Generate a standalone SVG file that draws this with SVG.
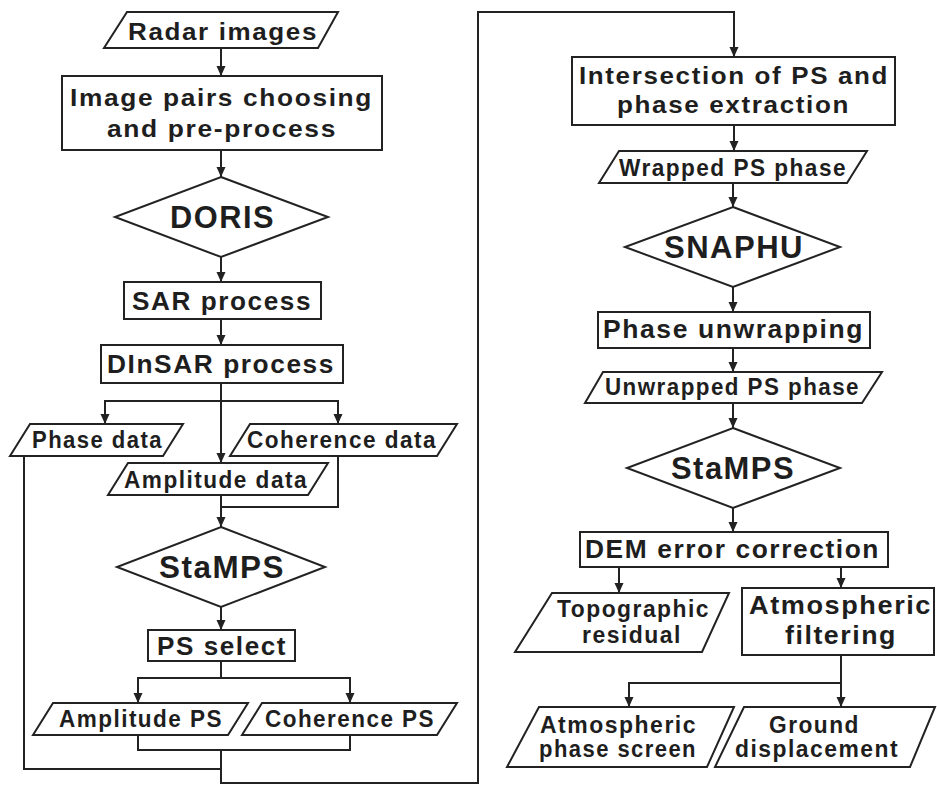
<svg xmlns="http://www.w3.org/2000/svg" width="937" height="787" viewBox="0 0 937 787">
<style>
.s{fill:#fff;stroke:#222;stroke-width:2;stroke-linejoin:miter}
.c{fill:none;stroke:#222;stroke-width:2}
.a{marker-end:url(#ah)}
text{font-family:"Liberation Sans",Arial,sans-serif;font-weight:bold;fill:#1e1e1e;letter-spacing:1.5px}
.t21{font-size:23px}.t22{font-size:24px}.t23{font-size:25px}.t24{font-size:26px}.t29{font-size:31px}
</style>
<defs>
<marker id="ah" markerUnits="userSpaceOnUse" markerWidth="10" markerHeight="10" viewBox="0 0 10 10" refX="10" refY="5" orient="auto">
<path d="M0,0.5 L10,5 L0,9.5 z" fill="#222"/>
</marker>
</defs>
<rect width="937" height="787" fill="#fff"/>
<g id="connectors">
<path class="c a" d="M221,48 V76"/>
<path class="c a" d="M221,150 V177"/>
<path class="c a" d="M221,257 V282"/>
<path class="c a" d="M221,319 V345"/>
<path class="c a" d="M221,383 V463"/>
<path class="c a" d="M221,401 H105 V424"/>
<path class="c a" d="M221,401 H338 V424"/>
<path class="c" d="M338,456 V507 H221"/>
<path class="c a" d="M221,495 V527"/>
<path class="c a" d="M221,607 V630"/>
<path class="c a" d="M221,661 V678 H138 V703"/>
<path class="c a" d="M221,678 H350 V703"/>
<path class="c" d="M138,735 V750 H350 V735"/>
<path class="c" d="M24,456 V769 H221"/>
<path class="c a" d="M221,750 V783 H478 V12 H734 V57"/>
<path class="c a" d="M734,125 V151"/>
<path class="c a" d="M733,183 V207"/>
<path class="c a" d="M733,287 V312"/>
<path class="c a" d="M733,348 V372"/>
<path class="c a" d="M733,403 V428"/>
<path class="c a" d="M733,508 V532"/>
<path class="c a" d="M619,567 V593"/>
<path class="c a" d="M841,567 V588"/>
<path class="c a" d="M841,655 V707"/>
<path class="c a" d="M841,683 H629 V707"/>
</g>
<g id="radar-images">
<polygon class="s" points="127,12 338,12 318,48 104,48"/>
<text class="t22" x="128" y="40" textLength="190" lengthAdjust="spacingAndGlyphs">Radar images</text>
</g>
<g id="image-pairs">
<rect class="s" x="62" y="76" width="320" height="74"/>
<text class="t22" x="70" y="106" textLength="303" lengthAdjust="spacingAndGlyphs">Image pairs choosing</text>
<text class="t22" x="107" y="137" textLength="230" lengthAdjust="spacingAndGlyphs">and pre-process</text>
</g>
<g id="doris">
<polygon class="s" points="221,177 328,217 221,257 115,217"/>
<text class="t29" x="170" y="228" textLength="105" lengthAdjust="spacingAndGlyphs">DORIS</text>
</g>
<g id="sar-process">
<rect class="s" x="124" y="282" width="197" height="37"/>
<text class="t23" x="132" y="310" textLength="180" lengthAdjust="spacingAndGlyphs">SAR process</text>
</g>
<g id="dinsar-process">
<rect class="s" x="101" y="345" width="242" height="38"/>
<text class="t23" x="107" y="373" textLength="228" lengthAdjust="spacingAndGlyphs">DInSAR process</text>
</g>
<g id="phase-data">
<polygon class="s" points="30,424 183,424 163,456 10,456"/>
<text class="t21" x="32" y="448" textLength="131" lengthAdjust="spacingAndGlyphs">Phase data</text>
</g>
<g id="coherence-data">
<polygon class="s" points="250,424 457,424 437,456 230,456"/>
<text class="t21" x="247" y="448" textLength="190" lengthAdjust="spacingAndGlyphs">Coherence data</text>
</g>
<g id="amplitude-data">
<polygon class="s" points="128,463 328,463 308,495 108,495"/>
<text class="t21" x="124" y="488" textLength="184" lengthAdjust="spacingAndGlyphs">Amplitude data</text>
</g>
<g id="stamps-1">
<polygon class="s" points="221,527 325,567 221,607 117,567"/>
<text class="t29" x="159" y="578" textLength="126" lengthAdjust="spacingAndGlyphs">StaMPS</text>
</g>
<g id="ps-select">
<rect class="s" x="148" y="630" width="147" height="31"/>
<text class="t23" x="157" y="655" textLength="130" lengthAdjust="spacingAndGlyphs">PS select</text>
</g>
<g id="amplitude-ps">
<polygon class="s" points="53,703 248,703 228,735 33,735"/>
<text class="t21" x="59" y="727" textLength="164" lengthAdjust="spacingAndGlyphs">Amplitude PS</text>
</g>
<g id="coherence-ps">
<polygon class="s" points="262,703 457,703 437,735 242,735"/>
<text class="t21" x="265" y="727" textLength="170" lengthAdjust="spacingAndGlyphs">Coherence PS</text>
</g>
<g id="intersection">
<rect class="s" x="572" y="57" width="323" height="68"/>
<text class="t22" x="579" y="84" textLength="310" lengthAdjust="spacingAndGlyphs">Intersection of PS and</text>
<text class="t22" x="617" y="113" textLength="233" lengthAdjust="spacingAndGlyphs">phase extraction</text>
</g>
<g id="wrapped-ps-phase">
<polygon class="s" points="619,151 867,151 847,183 599,183"/>
<text class="t21" x="619" y="176" textLength="228" lengthAdjust="spacingAndGlyphs">Wrapped PS phase</text>
</g>
<g id="snaphu">
<polygon class="s" points="733,207 840,247 733,287 625,247"/>
<text class="t29" x="664" y="258" textLength="140" lengthAdjust="spacingAndGlyphs">SNAPHU</text>
</g>
<g id="phase-unwrapping">
<rect class="s" x="598" y="312" width="272" height="36"/>
<text class="t23" x="603" y="338" textLength="261" lengthAdjust="spacingAndGlyphs">Phase unwrapping</text>
</g>
<g id="unwrapped-ps-phase">
<polygon class="s" points="603,372 882,372 862,403 585,403"/>
<text class="t21" x="605" y="395" textLength="255" lengthAdjust="spacingAndGlyphs">Unwrapped PS phase</text>
</g>
<g id="stamps-2">
<polygon class="s" points="733,428 840,468 733,508 627,468"/>
<text class="t29" x="671" y="479" textLength="124" lengthAdjust="spacingAndGlyphs">StaMPS</text>
</g>
<g id="dem-error-correction">
<rect class="s" x="580" y="532" width="308" height="35"/>
<text class="t23" x="585" y="558" textLength="295" lengthAdjust="spacingAndGlyphs">DEM error correction</text>
</g>
<g id="topographic-residual">
<polygon class="s" points="552,593 729,593 702,652 515,652"/>
<text class="t21" x="557" y="617" textLength="153" lengthAdjust="spacingAndGlyphs">Topographic</text>
<text class="t21" x="582" y="643" textLength="100" lengthAdjust="spacingAndGlyphs">residual</text>
</g>
<g id="atmospheric-filtering">
<rect class="s" x="742" y="588" width="192" height="67"/>
<text class="t24" x="749" y="614" textLength="183" lengthAdjust="spacingAndGlyphs">Atmospheric</text>
<text class="t24" x="785" y="644" textLength="112" lengthAdjust="spacingAndGlyphs">filtering</text>
</g>
<g id="atmospheric-phase-screen">
<polygon class="s" points="539,707 734,707 707,767 507,767"/>
<text class="t21" x="540" y="733" textLength="157" lengthAdjust="spacingAndGlyphs">Atmospheric</text>
<text class="t21" x="539" y="757" textLength="158" lengthAdjust="spacingAndGlyphs">phase screen</text>
</g>
<g id="ground-displacement">
<polygon class="s" points="744,707 935,707 910,767 715,767"/>
<text class="t21" x="769" y="733" textLength="91" lengthAdjust="spacingAndGlyphs">Ground</text>
<text class="t21" x="735" y="757" textLength="164" lengthAdjust="spacingAndGlyphs">displacement</text>
</g>
</svg>
